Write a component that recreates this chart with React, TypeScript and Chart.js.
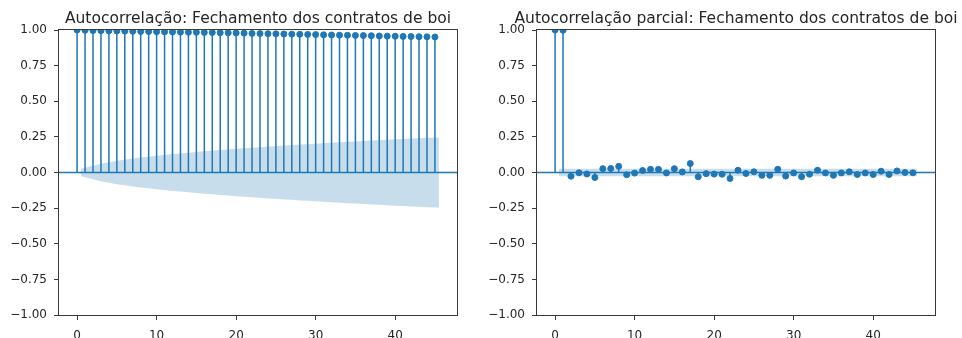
import React, { useEffect, useRef } from "react";
import { Chart, registerables } from "chart.js";

Chart.register(...registerables);

// ---------------- data ----------------
const LAGS = [
  0, 1, 2, 3, 4, 5, 6, 7, 8, 9, 10, 11, 12, 13, 14, 15, 16, 17, 18, 19, 20, 21, 22,
  23, 24, 25, 26, 27, 28, 29, 30, 31, 32, 33, 34, 35, 36, 37, 38, 39, 40, 41, 42, 43,
  44, 45,
];

const ACF = [
  1.0, 0.998, 0.996, 0.995, 0.994, 0.993, 0.992, 0.991, 0.99, 0.989,
  0.988, 0.987, 0.986, 0.985, 0.984, 0.984, 0.983, 0.982, 0.981, 0.98,
  0.979, 0.978, 0.976, 0.975, 0.974, 0.973, 0.972, 0.971, 0.97, 0.969,
  0.968, 0.966, 0.965, 0.964, 0.963, 0.962, 0.961, 0.96, 0.958, 0.957,
  0.956, 0.955, 0.954, 0.953, 0.952, 0.951,
];

// half-width of the confidence band, lags 1..45
const ACF_CONF = [
  0.027, 0.047, 0.061, 0.072, 0.082, 0.09, 0.098, 0.105, 0.111, 0.118,
  0.123, 0.129, 0.134, 0.139, 0.144, 0.149, 0.153, 0.158, 0.162, 0.166,
  0.17, 0.174, 0.178, 0.182, 0.185, 0.189, 0.192, 0.196, 0.199, 0.202,
  0.206, 0.209, 0.212, 0.215, 0.218, 0.221, 0.224, 0.227, 0.23, 0.233,
  0.235, 0.238, 0.241, 0.243, 0.246,
];

const PACF = [
  1.0, 0.998, -0.026, -0.002, -0.01, -0.035, 0.027, 0.028, 0.043, -0.016,
  -0.004, 0.014, 0.022, 0.022, -0.003, 0.027, 0.004, 0.063, -0.03, -0.008,
  -0.011, -0.012, -0.042, 0.016, -0.007, 0.005, -0.02, -0.02, 0.023, -0.025,
  -0.003, -0.03, -0.012, 0.016, -0.003, -0.02, -0.003, 0.005, -0.014, -0.003,
  -0.014, 0.009, -0.014, 0.011, 0.0, -0.002,
];

const PACF_CONF = [
  0.027, 0.027, 0.027, 0.027, 0.027, 0.027, 0.027, 0.027, 0.027, 0.027,
  0.027, 0.027, 0.027, 0.027, 0.027, 0.027, 0.027, 0.027, 0.027, 0.027,
  0.027, 0.027, 0.027, 0.027, 0.027, 0.027, 0.027, 0.027, 0.027, 0.027,
  0.027, 0.027, 0.027, 0.027, 0.027, 0.027, 0.027, 0.027, 0.027, 0.027,
  0.027, 0.027, 0.027, 0.027, 0.027,
];

const X_TICKS = [0, 10, 20, 30, 40];
const Y_TICKS = [-1, -0.75, -0.5, -0.25, 0, 0.25, 0.5, 0.75, 1];

const TITLE_ACF = "Autocorrelação: Fechamento dos contratos de boi";
const TITLE_PACF = "Autocorrelação parcial: Fechamento dos contratos de boi";

// ---------------- style ----------------
const C0 = "#1f77b4";
const BAND = "rgba(31,119,180,0.25)";
const X_MIN = -2.275;
const X_MAX = 47.775;
const FONT = "'DejaVu Sans', sans-serif";
const TEXT = "#262626";

function fmtY(v: number) {
  const s = Number(v).toFixed(2);
  return s.replace("-", "\u2212");
}

function buildDatasets(values: number[], conf: number[]) {
  const bandX = LAGS.slice(1).map((l, i, arr) =>
    i === 0 ? l - 0.5 : i === arr.length - 1 ? l + 0.5 : l
  );
  const upper = bandX.map((x, i) => ({ x, y: conf[i] }));
  const lower = bandX.map((x, i) => ({ x, y: -conf[i] }));
  const stems: { x: number; y: number | null }[] = [];
  LAGS.forEach((l, i) => {
    stems.push({ x: l, y: 0 }, { x: l, y: values[i] }, { x: l, y: null });
  });
  const markers = LAGS.map((l, i) => ({ x: l, y: values[i] }));
  const zero = [
    { x: X_MIN, y: 0 },
    { x: X_MAX, y: 0 },
  ];
  const common = { clip: 0, pointRadius: 0, pointHoverRadius: 0, tension: 0 };
  return [
    {
      ...common,
      data: upper,
      borderWidth: 0,
      borderColor: "rgba(0,0,0,0)",
      backgroundColor: BAND,
      fill: "+1",
    },
    {
      ...common,
      data: lower,
      borderWidth: 0,
      borderColor: "rgba(0,0,0,0)",
      fill: false,
    },
    {
      ...common,
      data: markers,
      showLine: false,
      pointRadius: 3,
      pointBorderWidth: 1,
      pointBackgroundColor: C0,
      pointBorderColor: C0,
      fill: false,
    },
    {
      ...common,
      data: zero,
      borderWidth: 1.5,
      borderColor: C0,
      fill: false,
    },
    {
      ...common,
      data: stems,
      borderWidth: 1.5,
      borderColor: C0,
      spanGaps: false,
      fill: false,
    },
  ];
}

function Panel(props: {
  left: number;
  title: string;
  values: number[];
  conf: number[];
  axisWidth: number;
  padRight: number;
}) {
  const ref = useRef<HTMLCanvasElement>(null);
  useEffect(() => {
    const { title, values, conf, axisWidth, padRight } = props;
    const framePlugin = {
      id: "frameTitle",
      afterDraw(chart: any) {
        const { ctx, chartArea } = chart;
        const { left, right, top, bottom } = chartArea;
        ctx.save();
        ctx.strokeStyle = "#3a3a3a";
        ctx.lineWidth = 1;
        ctx.strokeRect(left - 0.5, top - 0.5, right - left + 1, bottom - top + 1);
        ctx.fillStyle = TEXT;
        ctx.font = `15.5px ${FONT}`;
        ctx.textAlign = "center";
        ctx.textBaseline = "alphabetic";
        ctx.fillText(title, (left + right) / 2, 23);
        ctx.restore();
      },
    };
    const chart = new Chart(ref.current!, {
      type: "line",
      data: { datasets: buildDatasets(values, conf) as any },
      options: {
        responsive: false,
        animation: false,
        events: [],
        layout: { padding: { top: 30, right: padRight, bottom: 0, left: 0 } },
        plugins: {
          legend: { display: false },
          tooltip: { enabled: false },
          title: { display: false },
        },
        scales: {
          x: {
            type: "linear",
            min: X_MIN,
            max: X_MAX,
            afterBuildTicks: (s: any) => {
              s.ticks = X_TICKS.map((v) => ({ value: v }));
            },
            afterFit: (s: any) => {
              s.height = 23;
            },
            border: { display: false },
            grid: {
              drawOnChartArea: false,
              drawTicks: true,
              tickLength: 5,
              color: "#3a3a3a",
              lineWidth: 1,
            },
            ticks: {
              autoSkip: false,
              maxRotation: 0,
              padding: 8.5,
              color: TEXT,
              font: { family: FONT, size: 12 },
              callback: (v: any) => String(v),
            },
          },
          y: {
            type: "linear",
            min: -1,
            max: 1,
            afterBuildTicks: (s: any) => {
              s.ticks = Y_TICKS.map((v) => ({ value: v }));
            },
            afterFit: (s: any) => {
              s.width = axisWidth;
            },
            border: { display: false },
            grid: {
              drawOnChartArea: false,
              drawTicks: true,
              tickLength: 5,
              color: "#3a3a3a",
              lineWidth: 1,
            },
            ticks: {
              autoSkip: false,
              padding: 7,
              color: TEXT,
              font: { family: FONT, size: 12 },
              callback: (v: any) => fmtY(v),
            },
          },
        },
      },
      plugins: [framePlugin],
    } as any);
    return () => chart.destroy();
  }, []);
  return (
    <canvas
      ref={ref}
      width={481}
      height={338}
      style={{ position: "absolute", left: props.left, top: 0, width: 481, height: 338 }}
    />
  );
}

export default function App() {
  return (
    <div
      style={{
        position: "absolute",
        left: 0,
        top: 0,
        width: 962,
        height: 338,
        background: "#fff",
        overflow: "hidden",
      }}
    >
      <Panel left={0} title={TITLE_ACF} values={ACF} conf={ACF_CONF} axisWidth={59} padRight={24} />
      <Panel left={481} title={TITLE_PACF} values={PACF} conf={PACF_CONF} axisWidth={56} padRight={27} />
    </div>
  );
}
